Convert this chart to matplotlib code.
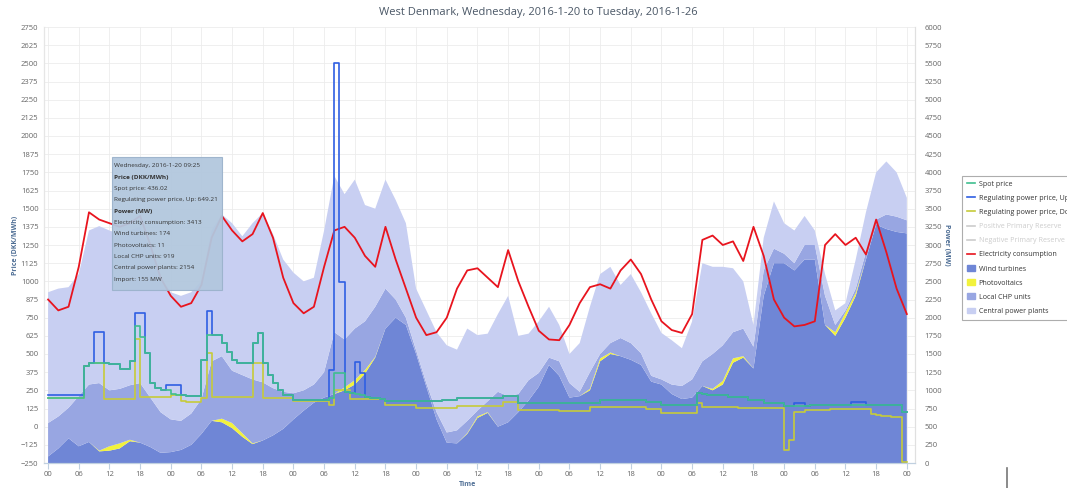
import matplotlib
matplotlib.use("Agg")
import matplotlib.pyplot as plt
import numpy as np
from matplotlib.patches import Patch, Rectangle
from matplotlib.lines import Line2D

plt.rcParams['font.family'] = ['Open Sans', 'DejaVu Sans']

# Production / consumption, MW, every 2 hours from Wed 2016-01-20 00:00 (h=0) to Wed 00:00 (h=168)
hours = np.arange(0, 169, 2)
wind = [90, 200, 340, 230, 290, 160, 170, 200, 300, 280, 220, 140,
        150, 180, 250, 400, 580, 560, 480, 360, 260, 310, 380, 470,
        600, 720, 830, 900, 950, 1000, 1080, 1230, 1450, 1850, 2000, 1900,
        1500, 1050, 600, 280, 270, 400, 620, 690, 500, 560, 700, 860,
        1050, 1350, 1200, 900, 920, 1000, 1400, 1500, 1470, 1420, 1350, 1120,
        1080, 950, 880, 900, 1060, 1000, 1080, 1380, 1450, 1300, 2300, 2750,
        2750, 2650, 2800, 2800, 1900, 1750, 2000, 2300, 2800, 3280, 3220, 3180,
        3160]
pv = [0, 0, 0, 0, 0, 10, 60, 70, 20, 0, 0, 0,
      0, 0, 0, 0, 0, 50, 70, 50, 10, 0, 0, 0,
      0, 0, 0, 0, 0, 40, 60, 50, 10, 0, 0, 0,
      0, 0, 0, 0, 0, 10, 20, 10, 0, 0, 0, 0,
      0, 0, 0, 0, 0, 20, 40, 20, 0, 0, 0, 0,
      0, 0, 0, 0, 0, 20, 50, 60, 20, 0, 0, 0,
      0, 0, 0, 0, 0, 50, 70, 40, 0, 0, 0, 0,
      0]
chp = [460, 440, 420, 690, 790, 930, 770, 750, 750, 820, 680, 560,
       450, 400, 430, 480, 820, 860, 720, 800, 880, 800, 650, 510,
       360, 280, 250, 350, 850, 660, 710, 670, 690, 550, 250, 100,
       50, 50, 100, 140, 180, 170, 80, 150, 480, 360, 250, 280,
       190, 100, 200, 200, 60, 230, 60, 130, 250, 230, 160, 80,
       70, 130, 180, 250, 340, 480, 490, 360, 380, 300, 350, 200,
       130, 100, 200, 200, 400, 100, 30, 60, 100, 70, 200, 210,
       180]
central = [1800, 1760, 1660, 1680, 2120, 2160, 2200, 2130, 2130, 2150, 2050, 1850,
           1750, 1720, 1670, 1620, 1800, 1950, 2030, 1910, 2150, 2330, 2120, 1820,
           1660, 1500, 1470, 1950, 2150, 2000, 2050, 1600, 1350, 1500, 1370, 1300,
           850, 1000, 1100, 1200, 1110, 1270, 1040, 930, 1070, 1380, 800, 640,
           710, 700, 500, 400, 670, 900, 1100, 1050, 730, 950, 840, 860,
           640, 610, 520, 800, 1350, 1200, 1080, 880, 650, 300, 450, 650,
           420, 450, 400, 200, 300, 200, 100, 400, 550, 650, 730, 610,
           310]
consumption = [2250, 2100, 2150, 2700, 3450, 3350, 3300, 3250, 3300, 3400, 3000, 2550,
               2300, 2150, 2200, 2450, 3100, 3400, 3200, 3050, 3150, 3440, 3100, 2550,
               2200, 2060, 2150, 2700, 3200, 3250, 3100, 2850, 2700, 3250, 2800, 2400,
               2000, 1760, 1800, 2000, 2400, 2650, 2680, 2550, 2420, 2930, 2500, 2150,
               1820, 1700, 1690, 1900, 2200, 2420, 2460, 2400, 2650, 2800, 2600, 2250,
               1950, 1830, 1790, 2050, 3070, 3130, 3000, 3050, 2780, 3250, 2850, 2250,
               2000, 1880, 1900, 1950, 3000, 3150, 3000, 3100, 2870, 3350, 2900, 2400,
               2050]

# Prices, DKK/MWh, hourly (one row per day)
price_hours = np.arange(169)
spot = [195, 195, 195, 195, 195, 195, 195, 415, 440, 436, 440, 440, 430, 430, 400, 400, 455, 690, 620, 505, 300, 265, 250, 250,
        225, 220, 215, 210, 210, 210, 460, 630, 630, 630, 575, 515, 460, 440, 438, 438, 575, 645, 440, 355, 300, 250, 218, 215,
        185, 185, 185, 185, 185, 185, 185, 200, 370, 370, 240, 235, 225, 215, 205, 200, 195, 190, 175, 175, 175, 175, 175, 175,
        175, 175, 175, 175, 175, 183, 183, 183, 195, 195, 195, 195, 195, 195, 195, 195, 195, 210, 210, 210, 165, 165, 165, 165,
        165, 165, 165, 165, 163, 163, 163, 163, 163, 163, 163, 163, 183, 183, 183, 183, 183, 183, 183, 183, 183, 172, 172, 172,
        152, 152, 152, 152, 152, 152, 152, 232, 225, 218, 218, 218, 218, 206, 206, 206, 206, 185, 185, 185, 165, 165, 165, 165,
        140, 140, 140, 140, 140, 152, 152, 152, 152, 152, 152, 152, 152, 152, 152, 152, 152, 152, 152, 152, 152, 152, 152, 100]
reg_up = [218, 218, 218, 218, 218, 218, 218, 415, 440, 650, 650, 440, 430, 430, 400, 400, 455, 782, 782, 505, 300, 265, 250, 290,
          290, 290, 215, 210, 210, 210, 460, 798, 630, 630, 575, 515, 460, 440, 438, 438, 575, 645, 440, 355, 300, 250, 218, 215,
          185, 185, 185, 185, 185, 185, 185, 390, 2500, 997, 240, 235, 447, 368, 205, 200, 195, 190, 175, 175, 175, 175, 175, 175,
          175, 175, 175, 175, 175, 183, 183, 183, 195, 195, 195, 195, 195, 195, 195, 195, 195, 210, 210, 210, 165, 165, 165, 165,
          165, 165, 165, 165, 163, 163, 163, 163, 163, 163, 163, 163, 183, 183, 183, 183, 183, 183, 183, 183, 183, 172, 172, 172,
          152, 152, 152, 152, 152, 152, 152, 232, 225, 218, 218, 218, 218, 206, 206, 206, 206, 185, 185, 185, 165, 165, 165, 165,
          140, 140, 162, 162, 140, 152, 152, 152, 152, 152, 152, 152, 152, 170, 170, 170, 152, 152, 152, 152, 152, 152, 152, 100]
reg_down = [195, 195, 195, 195, 195, 195, 195, 415, 440, 436, 440, 190, 190, 190, 190, 190, 190, 600, 205, 205, 205, 205, 205, 205,
            215, 215, 175, 170, 170, 170, 200, 507, 206, 206, 206, 206, 206, 206, 206, 206, 440, 440, 200, 200, 200, 200, 200, 200,
            180, 180, 180, 180, 180, 180, 180, 150, 250, 250, 250, 190, 190, 190, 190, 190, 190, 190, 150, 150, 150, 150, 150, 150,
            128, 128, 128, 128, 128, 128, 128, 128, 142, 142, 142, 142, 142, 142, 142, 142, 142, 172, 172, 172, 115, 115, 115, 115,
            115, 115, 115, 115, 110, 110, 110, 110, 110, 110, 137, 137, 137, 137, 137, 137, 137, 137, 137, 137, 137, 120, 120, 120,
            96, 96, 96, 96, 96, 96, 96, 165, 137, 137, 137, 137, 137, 137, 137, 128, 128, 128, 128, 128, 128, 128, 128, 128,
            -160, -90, 100, 100, 115, 115, 115, 115, 115, 120, 120, 120, 120, 120, 120, 120, 120, 90, 80, 75, 70, 68, 65, -240]

hour_labels = ['00', '06', '12', '18'] * 7 + ['00']

c_wind, c_pv, c_chp, c_central = '#6f86d6', '#f2f23c', '#98a6e2', '#c8cff2'
c_spot, c_up, c_down, c_red = '#3fbf8f', '#2f5fe3', '#c6cb3a', '#e8141e'
W, H = 1067, 488

fig = plt.figure(figsize=(10.67, 4.88), dpi=100)
ax = fig.add_axes([44 / W, 25 / H, 871 / W, 436 / H])   # power axis (right side)
ax2 = ax.twinx()                                         # price axis (left side)
ax2.set_zorder(ax.get_zorder() + 1)
ax2.patch.set_visible(False)

ax.stackplot(hours, wind, pv, chp, central,
             colors=[c_wind, c_pv, c_chp, c_central], linewidth=0)
ax.plot(hours, consumption, color=c_red, lw=1.3)

def step(vals, color):
    ax2.step(price_hours, np.append(vals, vals[-1]), where='post', color=color, lw=1.2)

step(reg_down, c_down)
step(reg_up, c_up)
step(spot, c_spot)

ax.set_xlim(-0.8, 169.6)
ax.set_ylim(0, 6000)
ax2.set_ylim(-250, 2750)
ax.set_xticks(np.arange(0, 169, 6))
ax.set_xticklabels(hour_labels)
ax.set_yticks(np.arange(0, 6001, 250))
ax2.set_yticks(np.arange(-250, 2751, 125))

ax.yaxis.tick_right()
ax2.yaxis.tick_left()
ax.tick_params(axis='y', length=0, pad=7, labelsize=5.5, labelcolor='#666666')
ax2.tick_params(axis='y', length=0, pad=4, labelsize=5.5, labelcolor='#666666')
ax.tick_params(axis='x', length=4, color='#c0d0e0', pad=2, labelsize=5.5, labelcolor='#666666')

ax.grid(True, color='#ececec', lw=0.6)
ax.set_axisbelow(True)
for a in (ax, ax2):
    a.spines['top'].set_visible(False)
    a.spines['left'].set_color('#e6e6e6')
    a.spines['right'].set_color('#e0e0e0')
    a.spines['bottom'].set_color('#c0d0e0')

fig.text(538 / W, 1 - 13 / H, 'West Denmark, Wednesday, 2016-1-20 to Tuesday, 2016-1-26',
         ha='center', va='center', fontsize=8, color='#4a5766')
fig.text(15 / W, 1 - 245 / H, 'Price (DKK/MWh)', rotation=90, ha='center', va='center',
         fontsize=5, fontweight='bold', color='#4d6d94')
fig.text(946 / W, 1 - 245 / H, 'Power (MW)', rotation=-90, ha='center', va='center',
         fontsize=5, fontweight='bold', color='#4d6d94')
fig.text(467 / W, 1 - 484 / H, 'Time', ha='center', va='center',
         fontsize=5, fontweight='bold', color='#4d6d94')

# legend (its right part is cut by the figure edge, as in the screenshot)
handles = [Line2D([], [], color=c_spot, lw=1.2), Line2D([], [], color=c_up, lw=1.2),
           Line2D([], [], color=c_down, lw=1.2), Line2D([], [], color='#cccccc', lw=1.2),
           Line2D([], [], color='#cccccc', lw=1.2), Line2D([], [], color=c_red, lw=1.2),
           Patch(color=c_wind), Patch(color=c_pv), Patch(color=c_chp), Patch(color=c_central)]
labels = ['Spot price', 'Regulating power price, Up', 'Regulating power price, Down',
          'Positive Primary Reserve', 'Negative Primary Reserve', 'Electricity consumption',
          'Wind turbines', 'Photovoltaics', 'Local CHP units', 'Central power plants']
leg = fig.legend(handles, labels, loc='upper left', bbox_to_anchor=(958 / W, 1 - 172 / H),
                 fontsize=5.1, frameon=True, fancybox=False, edgecolor='#999999',
                 handlelength=1.2, handleheight=0.9, handletextpad=0.5,
                 labelspacing=0.95, borderpad=0.7)
leg.get_frame().set_linewidth(0.8)
for i, t in enumerate(leg.get_texts()):
    t.set_color('#cccccc' if i in (3, 4) else '#333333')

# tooltip
fig.add_artist(Rectangle((112 / W, 1 - 290 / H), 110 / W, 133 / H, transform=fig.transFigure,
                         facecolor='#b2c7de', edgecolor='#9cb3cc', lw=0.8, alpha=0.95))
tip = [('Wednesday, 2016-1-20 09:25', 'normal'), ('Price (DKK/MWh)', 'bold'),
       ('Spot price: 436.02', 'normal'), ('Regulating power price, Up: 649.21', 'normal'),
       ('Power (MW)', 'bold'), ('Electricity consumption: 3413', 'normal'),
       ('Wind turbines: 174', 'normal'), ('Photovoltaics: 11', 'normal'),
       ('Local CHP units: 919', 'normal'), ('Central power plants: 2154', 'normal'),
       ('Import: 155 MW', 'normal')]
for i, (line, weight) in enumerate(tip):
    fig.text(114 / W, 1 - (166 + i * 11.3) / H, line, fontsize=4.6, fontweight=weight,
             color='#333333', va='center')

fig.add_artist(Line2D([1007 / W, 1007 / W], [0, 20 / H], color='#777777', lw=1.2))

fig.savefig('out.png', dpi=100)
